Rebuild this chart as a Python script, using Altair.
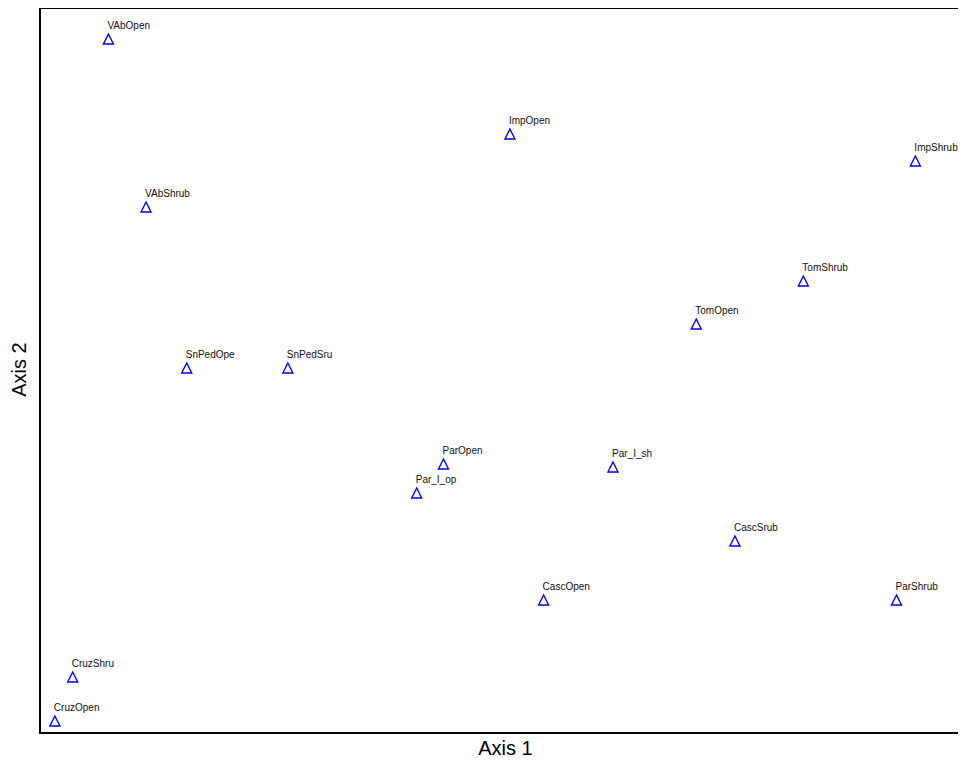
import altair as alt
import pandas as pd

# Site labels and their ordination scores (Axis 1, Axis 2)
sites = ["VAbOpen", "ImpOpen", "ImpShrub", "VAbShrub", "TomShrub", "TomOpen",
         "SnPedOpe", "SnPedSru", "ParOpen", "Par_I_sh", "Par_I_op", "CascSrub",
         "CascOpen", "ParShrub", "CruzShru", "CruzOpen"]
axis1 = [69, 474, 883, 107, 770, 662, 148, 250, 407, 578, 380, 701, 508, 864, 33, 15]
axis2 = [694, 599, 572, 526, 452, 409, 365, 365, 269, 266, 240, 192, 133, 133, 56, 12]

df = pd.DataFrame({"site": sites, "a1": axis1, "a2": axis2})

W, H = 918, 725
FONT = "Liberation Sans"

xs = alt.Scale(domain=[0, 926], nice=False, zero=False)
ys = alt.Scale(domain=[0, H], nice=False, zero=False)

x_enc = alt.X("a1:Q", scale=xs,
              axis=alt.Axis(title="Axis 1", domain=False, ticks=False, labels=False, grid=False,
                            titleFont=FONT, titleFontSize=20, titleFontWeight="normal",
                            titleColor="black", titleX=465, titleY=21,
                            titleBaseline="alphabetic", titleAlign="center"))
y_enc = alt.Y("a2:Q", scale=ys,
              axis=alt.Axis(title="Axis 2", domain=False, ticks=False, labels=False, grid=False,
                            titleFont=FONT, titleFontSize=20, titleFontWeight="normal",
                            titleColor="black", titleX=-21, titleY=361, titleAngle=270,
                            titleBaseline="middle", titleAlign="center"))

base = alt.Chart(df)

points = base.mark_point(
    shape="M0,-1L1,1L-1,1Z", size=100, filled=False, color="#0000FF", strokeWidth=1.4, opacity=1
).encode(x=x_enc, y=y_enc)

labels = base.mark_text(
    align="left", baseline="alphabetic", dx=-1, dy=-10, font=FONT, fontSize=10, color="#111111"
).encode(x=alt.X("a1:Q", scale=xs), y=alt.Y("a2:Q", scale=ys), text="site:N")

frame_top = alt.Chart(df).mark_rule(color="black", strokeWidth=2).encode(
    x=alt.value(-1), x2=alt.value(W + 10), y=alt.value(0))
frame_left = alt.Chart(df).mark_rule(color="black", strokeWidth=2).encode(
    x=alt.value(0), y=alt.value(-1), y2=alt.value(H + 1))
frame_bottom = alt.Chart(df).mark_rule(color="black", strokeWidth=2).encode(
    x=alt.value(-1), x2=alt.value(W + 10), y=alt.value(H))

chart = alt.layer(points, labels, frame_top, frame_left, frame_bottom).properties(
    width=W, height=H,
    autosize=alt.AutoSizeParams(type="none"),
    padding={"left": 32, "top": 0, "right": 0, "bottom": 26},
).configure_view(stroke=None).configure(background="white")

chart.save("out.html", embed_options={"renderer": "svg", "actions": False})
